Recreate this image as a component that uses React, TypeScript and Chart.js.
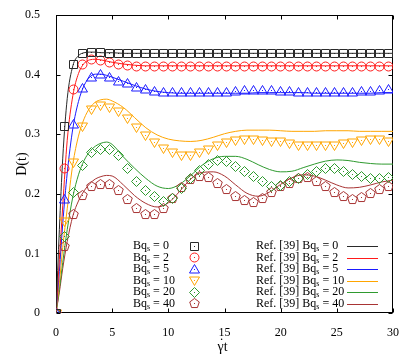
import React, { useEffect, useRef } from 'react';
import { Chart, registerables } from 'chart.js';
Chart.register(...registerables);

const bqValues = [0, 2, 5, 10, 20, 40];
const seriesColors = ['#2a2a2a', '#ff1a1a', '#1a1aff', '#ffa500', '#2f9a2f', '#a83434'];
const markerKinds = ['square', 'circle', 'tri', 'itri', 'diamond', 'pentagon'];
const refPrefix = 'Ref. [39] ';

const xTicks = [0, 5, 10, 15, 20, 25, 30];
const yTicks = [0, 0.1, 0.2, 0.3, 0.4, 0.5];

// simulation (markers)
const tSim = [0, 0.8, 1.6, 2.4, 3.2, 4, 4.8, 5.6, 6.4, 7.2, 8, 8.8, 9.6, 10.4, 11.2, 12, 12.8, 13.6, 14.4, 15.2, 16, 16.8, 17.6, 18.4, 19.2, 20, 20.8, 21.6, 22.4, 23.2, 24, 24.8, 25.6, 26.4, 27.2, 28, 28.8, 29.6];
const simBq0 = [0, 0.313, 0.418, 0.436, 0.438, 0.437, 0.436, 0.436, 0.435, 0.435, 0.435, 0.435, 0.435, 0.435, 0.435, 0.435, 0.435, 0.435, 0.435, 0.435, 0.435, 0.435, 0.435, 0.435, 0.435, 0.435, 0.435, 0.435, 0.435, 0.435, 0.435, 0.435, 0.435, 0.435, 0.435, 0.435, 0.435, 0.435];
const simBq2 = [0, 0.242, 0.375, 0.418, 0.426, 0.424, 0.420, 0.417, 0.415, 0.414, 0.414, 0.414, 0.414, 0.414, 0.414, 0.414, 0.414, 0.414, 0.414, 0.414, 0.414, 0.414, 0.414, 0.414, 0.414, 0.414, 0.414, 0.414, 0.414, 0.414, 0.414, 0.414, 0.414, 0.414, 0.414, 0.414, 0.414, 0.414];
const simBq5 = [0, 0.19, 0.316, 0.377, 0.396, 0.400, 0.396, 0.389, 0.386, 0.379, 0.375, 0.372, 0.371, 0.370, 0.370, 0.370, 0.370, 0.370, 0.371, 0.371, 0.372, 0.373, 0.373, 0.373, 0.373, 0.372, 0.372, 0.371, 0.371, 0.371, 0.371, 0.371, 0.371, 0.371, 0.372, 0.372, 0.374, 0.375];
const simBq10 = [0, 0.153, 0.253, 0.313, 0.342, 0.348, 0.345, 0.338, 0.326, 0.311, 0.298, 0.286, 0.277, 0.269, 0.265, 0.264, 0.270, 0.275, 0.281, 0.286, 0.289, 0.292, 0.291, 0.289, 0.288, 0.288, 0.285, 0.282, 0.282, 0.281, 0.281, 0.282, 0.284, 0.287, 0.289, 0.291, 0.291, 0.288];
const simBq20 = [0, 0.129, 0.202, 0.247, 0.270, 0.275, 0.275, 0.264, 0.243, 0.221, 0.205, 0.195, 0.187, 0.192, 0.209, 0.226, 0.239, 0.250, 0.256, 0.254, 0.246, 0.238, 0.229, 0.220, 0.213, 0.214, 0.221, 0.226, 0.232, 0.237, 0.242, 0.242, 0.238, 0.233, 0.229, 0.226, 0.225, 0.228];
const simBq40 = [0, 0.111, 0.166, 0.198, 0.213, 0.216, 0.216, 0.206, 0.190, 0.175, 0.166, 0.166, 0.175, 0.193, 0.210, 0.224, 0.230, 0.227, 0.217, 0.207, 0.195, 0.189, 0.186, 0.192, 0.203, 0.213, 0.218, 0.225, 0.227, 0.221, 0.212, 0.203, 0.195, 0.190, 0.194, 0.201, 0.208, 0.213];

// reference [39] (lines)
const tRef = [0, 0.3, 0.6, 1, 1.5, 2, 2.5, 3, 3.5, 4, 4.5, 5, 6, 7, 8, 9, 10, 11, 12, 13, 14, 15, 16, 17, 18, 19, 20, 21, 22, 23, 24, 25, 26, 27, 28, 29, 30];
const refBq0 = [0, 0.14, 0.26, 0.36, 0.415, 0.432, 0.437, 0.438, 0.438, 0.437, 0.437, 0.437, 0.436, 0.436, 0.436, 0.436, 0.436, 0.436, 0.436, 0.436, 0.436, 0.436, 0.436, 0.436, 0.436, 0.436, 0.436, 0.436, 0.436, 0.436, 0.436, 0.436, 0.436, 0.436, 0.436, 0.436, 0.436];
const refBq2 = [0, 0.09, 0.18, 0.29, 0.365, 0.402, 0.419, 0.425, 0.426, 0.425, 0.423, 0.421, 0.418, 0.416, 0.415, 0.415, 0.415, 0.415, 0.415, 0.415, 0.415, 0.415, 0.415, 0.415, 0.415, 0.415, 0.415, 0.415, 0.415, 0.415, 0.415, 0.415, 0.415, 0.415, 0.415, 0.415, 0.415];
const refBq5 = [0, 0.07, 0.15, 0.235, 0.31, 0.355, 0.382, 0.396, 0.401, 0.401, 0.399, 0.396, 0.389, 0.382, 0.376, 0.372, 0.370, 0.369, 0.369, 0.369, 0.369, 0.369, 0.369, 0.369, 0.370, 0.370, 0.370, 0.370, 0.370, 0.369, 0.369, 0.369, 0.369, 0.369, 0.369, 0.370, 0.370];
const refBq10 = [0, 0.05, 0.11, 0.175, 0.25, 0.297, 0.326, 0.344, 0.354, 0.358, 0.359, 0.356, 0.345, 0.328, 0.311, 0.299, 0.292, 0.289, 0.288, 0.290, 0.295, 0.301, 0.305, 0.307, 0.307, 0.307, 0.306, 0.305, 0.305, 0.305, 0.306, 0.306, 0.306, 0.305, 0.305, 0.305, 0.305];
const refBq20 = [0, 0.04, 0.085, 0.14, 0.195, 0.232, 0.256, 0.271, 0.28, 0.285, 0.287, 0.283, 0.262, 0.243, 0.226, 0.213, 0.209, 0.216, 0.231, 0.248, 0.259, 0.263, 0.263, 0.258, 0.249, 0.241, 0.237, 0.238, 0.244, 0.250, 0.255, 0.257, 0.256, 0.253, 0.251, 0.250, 0.250];
const refBq40 = [0, 0.035, 0.075, 0.12, 0.163, 0.188, 0.205, 0.217, 0.225, 0.229, 0.231, 0.230, 0.215, 0.197, 0.184, 0.178, 0.185, 0.204, 0.225, 0.236, 0.237, 0.230, 0.215, 0.201, 0.196, 0.203, 0.216, 0.227, 0.232, 0.230, 0.223, 0.215, 0.210, 0.211, 0.215, 0.220, 0.223];

const simSeries = [simBq0, simBq2, simBq5, simBq10, simBq20, simBq40];
const refSeries = [refBq0, refBq2, refBq5, refBq10, refBq20, refBq40];

const FONT = '"Liberation Serif", "Times New Roman", serif';

function makeMarker(kind: string, color: string): HTMLCanvasElement {
  const s = 13;
  const c = document.createElement('canvas');
  c.width = s;
  c.height = s;
  const g = c.getContext('2d')!;
  g.strokeStyle = color;
  g.fillStyle = color;
  g.lineWidth = 1;
  const m = 6.5;
  g.beginPath();
  if (kind === 'square') {
    g.rect(2.5, 2.5, 8, 8);
  } else if (kind === 'circle') {
    g.arc(m, m, 4.5, 0, Math.PI * 2);
  } else if (kind === 'tri') {
    g.moveTo(m, m - 5);
    g.lineTo(m + 5, m + 3.5);
    g.lineTo(m - 5, m + 3.5);
    g.closePath();
  } else if (kind === 'itri') {
    g.moveTo(m, m + 5);
    g.lineTo(m + 5, m - 3.5);
    g.lineTo(m - 5, m - 3.5);
    g.closePath();
  } else if (kind === 'diamond') {
    g.moveTo(m, m - 5);
    g.lineTo(m + 5, m);
    g.lineTo(m, m + 5);
    g.lineTo(m - 5, m);
    g.closePath();
  } else {
    for (let k = 0; k < 5; k++) {
      const a = -Math.PI / 2 + (k * 2 * Math.PI) / 5;
      const px = m + 5 * Math.cos(a);
      const py = m + 5 * Math.sin(a);
      if (k === 0) g.moveTo(px, py);
      else g.lineTo(px, py);
    }
    g.closePath();
  }
  g.stroke();
  g.fillRect(6, 6, 1, 1);
  return c;
}

function drawBqLabel(ctx: CanvasRenderingContext2D, x: number, y: number, prefix: string, value: number) {
  ctx.textAlign = 'left';
  ctx.textBaseline = 'middle';
  ctx.fillStyle = '#000';
  ctx.font = `12px ${FONT}`;
  const a = prefix + 'Bq';
  ctx.fillText(a, x, y);
  x += ctx.measureText(a).width;
  ctx.font = `8px ${FONT}`;
  ctx.fillText('s', x, y + 3);
  x += ctx.measureText('s').width;
  ctx.font = `12px ${FONT}`;
  ctx.fillText(' = ' + value, x, y);
}

export default function App() {
  const ref = useRef<HTMLCanvasElement | null>(null);

  useEffect(() => {
    const canvas = ref.current;
    if (!canvas) return;
    const markers = markerKinds.map((k, i) => makeMarker(k, seriesColors[i]));

    const simSets = simSeries.map((vals, i) => ({
      label: 'Bq_s = ' + bqValues[i],
      data: vals.map((v, j) => ({ x: tSim[j], y: v })),
      showLine: false,
      pointStyle: markers[i] as any,
      pointRadius: 5,
      borderColor: seriesColors[i],
      backgroundColor: seriesColors[i],
    }));
    const refSets = refSeries.map((vals, i) => ({
      label: refPrefix + 'Bq_s = ' + bqValues[i],
      data: vals.map((v, j) => ({ x: tRef[j], y: v })),
      showLine: true,
      pointRadius: 0,
      borderWidth: 1,
      borderColor: seriesColors[i],
      backgroundColor: seriesColors[i],
      cubicInterpolationMode: 'monotone' as const,
    }));

    const framePlugin = {
      id: 'framePlugin',
      beforeDatasetsDraw(chart: any) {
        const { ctx, chartArea: a, scales } = chart;
        ctx.save();
        ctx.strokeStyle = '#000';
        ctx.lineWidth = 1;
        const L = Math.round(a.left) + 0.5;
        const R = Math.round(a.right) - 0.5;
        const T = Math.round(a.top) + 0.5;
        const B = Math.round(a.bottom) - 0.5;
        ctx.strokeRect(L, T, R - L, B - T);
        const tl = 4;
        ctx.beginPath();
        xTicks.forEach((v) => {
          const px = Math.round(scales.x.getPixelForValue(v)) + 0.5;
          ctx.moveTo(px, B);
          ctx.lineTo(px, B - tl);
          ctx.moveTo(px, T);
          ctx.lineTo(px, T + tl);
        });
        yTicks.forEach((v) => {
          const py = Math.round(scales.y.getPixelForValue(v)) + 0.5;
          ctx.moveTo(L, py);
          ctx.lineTo(L + tl, py);
          ctx.moveTo(R, py);
          ctx.lineTo(R - tl, py);
        });
        ctx.stroke();
        ctx.restore();
        ctx.imageSmoothingEnabled = false;
      },
      afterDatasetsDraw(chart: any) {
        chart.ctx.imageSmoothingEnabled = true;
      },
      afterDraw(chart: any) {
        const { ctx, chartArea: a } = chart;
        ctx.save();
        // axis titles
        ctx.fillStyle = '#000';
        ctx.font = `14px ${FONT}`;
        ctx.textAlign = 'center';
        ctx.textBaseline = 'middle';
        ctx.save();
        ctx.translate(22, (a.top + a.bottom) / 2);
        ctx.rotate(-Math.PI / 2);
        ctx.fillText('D(t)', 0, 0);
        ctx.restore();
        ctx.font = `14px ${FONT}`;
        ctx.textAlign = 'left';
        const gx = (a.left + a.right) / 2 - 7;
        const gy = 347;
        const gw = ctx.measureText('\u03B3').width;
        ctx.fillText('\u03B3t', gx, gy);
        ctx.textAlign = 'center';
        ctx.fillText('\u02D9', gx + gw / 2 + 1, gy - 3);
        ctx.imageSmoothingEnabled = false;
        // legend
        const rowH = 11.5;
        const y0 = a.bottom - 67;
        bqValues.forEach((bq, i) => {
          const y = y0 + i * rowH;
          drawBqLabel(ctx, a.left + 77, y, '', bq);
          const mk = markers[i];
          ctx.drawImage(mk, Math.round(a.left + 138 - mk.width / 2), Math.round(y - mk.height / 2));
          drawBqLabel(ctx, a.left + 200, y, refPrefix, bq);
          ctx.strokeStyle = seriesColors[i];
          ctx.lineWidth = 1;
          ctx.beginPath();
          ctx.moveTo(a.left + 291, Math.round(y) + 0.5);
          ctx.lineTo(a.left + 322, Math.round(y) + 0.5);
          ctx.stroke();
        });
        ctx.restore();
      },
    };

    const chart = new Chart(canvas, {
      type: 'scatter',
      data: { datasets: [...simSets, ...refSets] as any },
      options: {
        animation: false,
        responsive: false,
        maintainAspectRatio: false,
        layout: { padding: { top: 13, right: 22, left: 0, bottom: 0 } },
        plugins: { legend: { display: false }, tooltip: { enabled: false } },
        scales: {
          x: {
            type: 'linear',
            min: 0,
            max: 30,
            afterFit: (s: any) => { s.height = 43; },
            afterBuildTicks: (s: any) => { s.ticks = xTicks.map((v) => ({ value: v })); },
            grid: { display: false },
            border: { display: false },
            ticks: { color: '#000', padding: 5, font: { family: FONT, size: 12 }, maxRotation: 0 },
          },
          y: {
            type: 'linear',
            min: 0,
            max: 0.5,
            afterFit: (s: any) => { s.width = 56; },
            afterBuildTicks: (s: any) => { s.ticks = yTicks.map((v) => ({ value: v })); },
            grid: { display: false },
            border: { display: false },
            ticks: { color: '#000', padding: 8, font: { family: FONT, size: 12 }, callback: (v: any) => String(Number(v)) },
          },
        },
      },
      plugins: [framePlugin],
    });
    return () => chart.destroy();
  }, []);

  return (
    <div style={{ position: 'absolute', left: 0, top: 0, width: 415, height: 356, background: '#fff' }}>
      <canvas ref={ref} width={415} height={356} />
    </div>
  );
}
